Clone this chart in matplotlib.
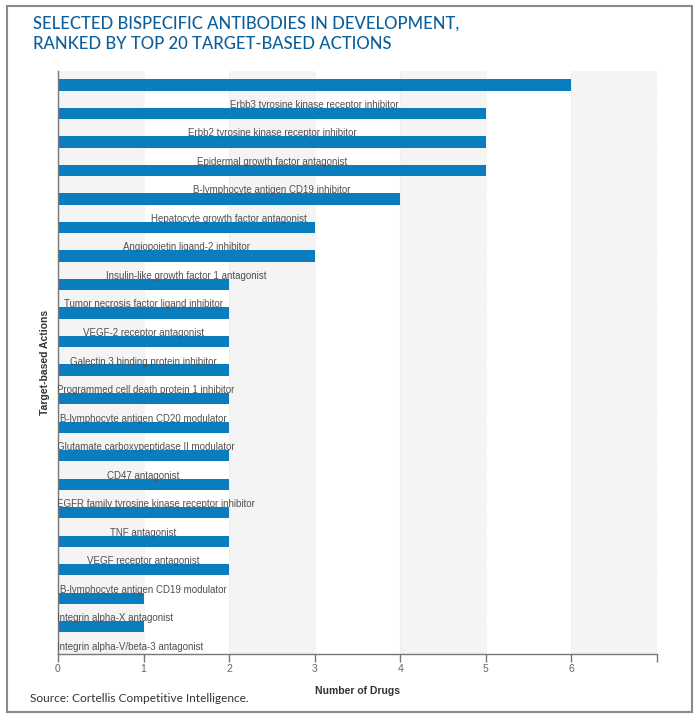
import matplotlib
matplotlib.use('Agg')
import matplotlib.pyplot as plt
from matplotlib.patches import Rectangle

# data (label sits just below its own bar, centred at half the value)
actions = ['Erbb3 tyrosine kinase receptor inhibitor',
           'Erbb2 tyrosine kinase receptor inhibitor',
           'Epidermal growth factor antagonist',
           'B-lymphocyte antigen CD19 inhibitor',
           'Hepatocyte growth factor antagonist',
           'Angiopoietin ligand-2 inhibitor',
           'Insulin-like growth factor 1 antagonist',
           'Tumor necrosis factor ligand inhibitor',
           'VEGF-2 receptor antagonist',
           'Galectin 3 binding protein inhibitor',
           'Programmed cell death protein 1 inhibitor',
           'B-lymphocyte antigen CD20 modulator',
           'Glutamate carboxypeptidase II modulator',
           'CD47 antagonist',
           'EGFR family tyrosine kinase receptor inhibitor',
           'TNF antagonist',
           'VEGF receptor antagonist',
           'B-lymphocyte antigen CD19 modulator',
           'Integrin alpha-X antagonist',
           'Integrin alpha-V/beta-3 antagonist']
drugs = [6, 5, 5, 5, 4, 3, 3, 2, 2, 2, 2, 2, 2, 2, 2, 2, 2, 2, 1, 1]
xticks = [0, 1, 2, 3, 4, 5, 6, 7]
xticklabels = ['0', '1', '2', '3', '4', '5', '6', '']

title = 'SELECTED BISPECIFIC ANTIBODIES IN DEVELOPMENT,\nRANKED BY TOP 20 TARGET-BASED ACTIONS'
source = 'Source: Cortellis Competitive Intelligence.'

plt.rcParams['font.family'] = ['Liberation Sans', 'DejaVu Sans']

W, H = 700, 718
fig = plt.figure(figsize=(W / 100, H / 100), dpi=100)
ax = fig.add_axes([58 / W, 1 - 654 / H, (657 - 58) / W, (654 - 71) / H])

# alternating background bands
for k in range(0, 7, 2):
    ax.axvspan(k, k + 1, color='#f4f4f4', zorder=0, lw=0)
for k in xticks[1:]:
    ax.axvline(k, color='#e6e6e6', lw=0.8, ls=':', zorder=0.5)

pos = list(range(len(actions)))
ax.barh(pos, drugs, height=0.39, color='#0a7dbf', zorder=2)
labels = []
for i, (name, v) in enumerate(zip(actions, drugs)):
    t = ax.text(v / 2, i + 0.7, name, ha='center', va='center', fontsize=7,
                color='#505050', zorder=3, clip_on=True)
    labels.append(t)

ax.set_xlim(0, 7)
ax.set_ylim(19.96, -0.49)
ax.set_yticks([])
ax.set_xticks(xticks)
ax.set_xticklabels(xticklabels)
ax.tick_params(axis='x', length=6, width=1, color='#777777', labelcolor='#666666',
               labelsize=7.5, pad=1)
for s in ['top', 'right']:
    ax.spines[s].set_visible(False)
for s in ['left', 'bottom']:
    ax.spines[s].set_color('#777777')
    ax.spines[s].set_linewidth(1)

ax.set_xlabel('Number of Drugs', fontsize=7.5, fontweight='bold', color='#333333', labelpad=9)
ax.set_ylabel('Target-based Actions', fontsize=7.5, fontweight='bold', color='#333333', labelpad=6)

fig.text(33 / W, 1 - 34 / H, title, ha='left', va='center', fontsize=12,
         color='#0b5e9c', family=['Lato', 'DejaVu Sans'], fontweight='medium',
         linespacing=1.35)
fig.text(30 / W, 1 - 698 / H, source, ha='left', va='center', fontsize=8.6,
         color='#333333', family=['Lato', 'DejaVu Sans'])

# outer frame
fig.patches.append(Rectangle((7 / W, 1 - 712 / H), (692 - 7) / W, (712 - 6) / H,
                             transform=fig.transFigure, fill=False,
                             edgecolor='#8a8a8a', lw=1.5))

# labels too wide to centre get pushed against the left axis
fig.canvas.draw()
r = fig.canvas.get_renderer()
left = ax.get_window_extent(r).x0
for t in labels:
    if t.get_window_extent(r).x0 < left:
        t.set_ha('left')
        t.set_x(-0.015)

fig.savefig('out.png', dpi=100)
